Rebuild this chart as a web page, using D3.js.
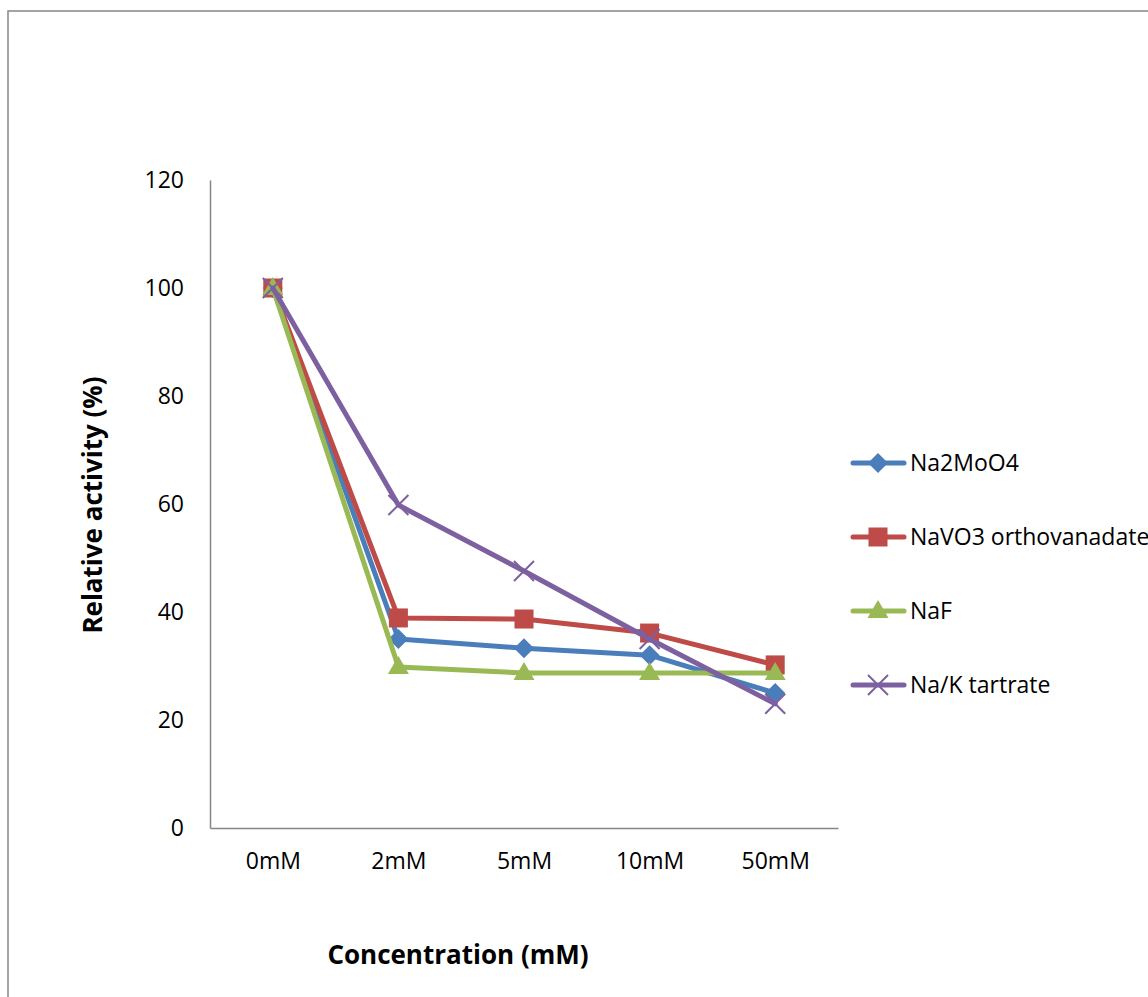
<!DOCTYPE html>
<html>
<head>
<meta charset="utf-8">
<script src="https://cdn.jsdelivr.net/npm/d3@7/dist/d3.min.js"></script>
<style>
  html, body { margin: 0; padding: 0; background: #fff; overflow: hidden; }
  svg { display: block; font-family: "Open Sans", "Noto Sans", sans-serif; }
</style>
</head>
<body>
<svg id="chart" width="1148" height="997"></svg>
<script>
// Concentrations tested
const categories = ["0mM", "2mM", "5mM", "10mM", "50mM"];

// Relative activity (%) for each inhibitor
const na2moo4 = [100, 35.0, 33.3, 32.0, 25.0];
const navo3 = [100, 38.9, 38.7, 36.1, 30.2];
const naf = [100, 29.8, 28.7, 28.7, 28.7];
const naKTartrate = [100, 59.8, 47.6, 35.0, 23.0];

const seriesNames = ["Na2MoO4", "NaVO3 orthovanadate", "NaF", "Na/K tartrate"];
const seriesValues = [na2moo4, navo3, naf, naKTartrate];
const seriesColors = ["#4a7ebb", "#be4b48", "#98b954", "#7d60a0"];
const seriesMarkers = ["diamond", "square", "triangle", "cross"];

const yTicks = [0, 20, 40, 60, 80, 100, 120];

const svg = d3.select("#chart");

// outer chart frame
svg.append("rect")
  .attr("x", 8).attr("y", 11)
  .attr("width", 1200).attr("height", 1100)
  .attr("fill", "#fff")
  .attr("stroke", "#868686").attr("stroke-width", 1.5);

const plot = { left: 210, right: 838, top: 180, bottom: 828 };

const x = d3.scalePoint()
  .domain(categories)
  .range([plot.left, plot.right])
  .padding(0.5);

const y = d3.scaleLinear()
  .domain([0, 120])
  .range([plot.bottom, plot.top]);

// y axis
const yAxis = svg.append("g")
  .attr("transform", `translate(${plot.left},0)`)
  .call(d3.axisLeft(y).tickValues(yTicks).tickSize(0).tickPadding(26));
yAxis.select(".domain").attr("stroke", "#868686").attr("stroke-width", 1.5);
yAxis.selectAll("text").attr("font-size", 23).attr("fill", "#000")
  .attr("font-family", "'Open Sans', sans-serif");

// x axis
const xAxis = svg.append("g")
  .attr("transform", `translate(0,${plot.bottom})`)
  .call(d3.axisBottom(x).tickSize(0).tickPadding(25));
xAxis.select(".domain").attr("stroke", "#868686").attr("stroke-width", 1.5);
xAxis.selectAll("text").attr("font-size", 23).attr("fill", "#000")
  .attr("font-family", "'Open Sans', sans-serif");

// axis titles
svg.append("text")
  .attr("x", 458).attr("y", 964)
  .attr("text-anchor", "middle")
  .attr("font-size", 26).attr("font-weight", "bold")
  .text("Concentration (mM)");

svg.append("text")
  .attr("transform", "translate(102,505) rotate(-90)")
  .attr("text-anchor", "middle")
  .attr("font-size", 26).attr("font-weight", "bold")
  .text("Relative activity (%)");

// marker shapes centred on (0,0)
function drawMarker(g, type, color) {
  if (type === "diamond") {
    g.append("path").attr("d", "M0,-10L10,0L0,10L-10,0Z").attr("fill", color);
  } else if (type === "square") {
    g.append("rect").attr("x", -9.5).attr("y", -9.5).attr("width", 19).attr("height", 19).attr("fill", color);
  } else if (type === "triangle") {
    g.append("path").attr("d", "M0,-11L10.5,7L-10.5,7Z").attr("fill", color);
  } else if (type === "cross") {
    g.append("path").attr("d", "M-10,-10L10,10M-10,10L10,-10")
      .attr("stroke", color).attr("stroke-width", 2).attr("fill", "none");
  }
}

const line = d3.line()
  .x((d, i) => x(categories[i]))
  .y(d => y(d));

seriesValues.forEach((vals, s) => {
  const g = svg.append("g");
  g.append("path")
    .datum(vals)
    .attr("d", line)
    .attr("fill", "none")
    .attr("stroke", seriesColors[s])
    .attr("stroke-width", 5)
    .attr("stroke-linejoin", "round")
    .attr("stroke-linecap", "round");
  vals.forEach((v, i) => {
    const m = g.append("g").attr("transform", `translate(${x(categories[i])},${y(v)})`);
    drawMarker(m, seriesMarkers[s], seriesColors[s]);
  });
});

// legend
const legend = svg.append("g");
seriesNames.forEach((name, s) => {
  const ly = 463 + s * 74;
  legend.append("line")
    .attr("x1", 853).attr("x2", 904)
    .attr("y1", ly).attr("y2", ly)
    .attr("stroke", seriesColors[s]).attr("stroke-width", 5)
    .attr("stroke-linecap", "round");
  const m = legend.append("g").attr("transform", `translate(878,${ly})`);
  drawMarker(m, seriesMarkers[s], seriesColors[s]);
  legend.append("text")
    .attr("x", 910).attr("y", ly)
    .attr("dy", "0.35em")
    .attr("font-size", 23)
    .attr("fill", "#000")
    .text(name);
});
</script>
</body>
</html>
